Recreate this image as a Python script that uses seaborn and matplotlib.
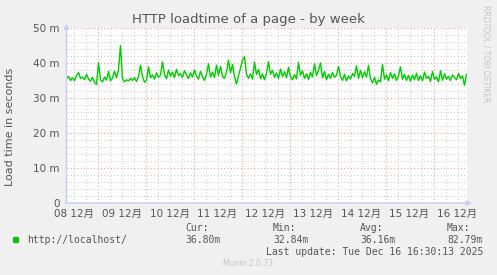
import numpy as np
import pandas as pd
import matplotlib
matplotlib.use("Agg")
import matplotlib.pyplot as plt
import matplotlib.dates as mdates
import matplotlib.transforms as mtransforms
from matplotlib.ticker import MultipleLocator, FixedLocator
import seaborn as sns

# ---------------- data ----------------
title = "HTTP loadtime of a page - by week"
ylabel = "Load time in seconds"
end_time = "2025-12-16 16:30"
loadtime_ms = [
    35.5, 36.2, 35.0, 35.8, 34.9, 36.4, 37.3, 35.6, 36.0, 35.2, 36.8, 35.4, 34.8, 35.9, 34.5, 33.9,
    40.1,
    35.2, 34.6, 36.0, 35.1, 37.6, 34.9, 35.7, 37.7, 35.8, 38.0,
    45.0,
    35.5, 34.6, 35.2, 34.9, 35.6, 35.0, 35.8, 34.7, 36.1,
    39.4,
    36.2, 34.5, 35.0,
    38.9,
    35.8, 36.6, 35.4, 37.2, 35.9, 36.5,
    40.3,
    36.8, 35.5, 38.0, 36.2, 37.4, 35.8, 38.2, 36.4, 37.0, 35.9, 37.8, 36.6, 35.6, 37.2, 36.0, 38.1,
    36.3, 35.4, 37.6, 36.1, 35.0, 36.8,
    39.8,
    36.0, 37.4, 35.8,
    39.4, 36.5, 39.0,
    36.2, 35.6, 37.5,
    40.8,
    37.2, 39.6, 36.0, 34.0, 36.4, 38.5,
    40.9, 41.8, 36.8, 35.6, 36.9, 35.4, 40.3, 36.7, 38.2, 35.5, 36.9, 35.2, 37.0, 40.4, 36.8, 37.9,
    35.9, 37.2, 35.6, 38.3, 36.1, 37.5, 35.8, 38.8, 36.0, 35.2, 36.7, 35.5, 40.2, 36.5, 37.8, 35.6,
    36.9, 35.3, 37.4, 36.0, 39.8, 36.4, 38.0, 40.0, 35.8, 37.6, 35.2, 36.8, 35.6, 37.3, 35.9, 36.5,
    39.0, 36.2, 35.0, 36.8, 34.9, 36.3, 35.4, 37.0, 36.2, 39.2, 35.6, 37.9, 35.8, 37.5, 36.0, 39.3,
    35.5, 34.3, 35.9, 33.9, 35.2, 34.6, 39.6, 35.4, 36.6, 34.9, 37.3, 35.6, 36.9, 35.0, 36.4, 38.9,
    35.3, 36.8, 35.0, 36.5, 34.8, 36.6, 35.2, 37.1, 35.0, 36.4, 34.9, 37.4, 35.6, 36.2, 34.7, 37.6,
    35.3, 36.0, 34.6, 37.8, 35.1, 36.9, 35.4, 36.2, 35.0, 36.6, 35.8, 35.2, 37.0, 35.6, 36.3, 33.6,
    36.8,
]
ytick_values = [0, 10, 20, 30, 40, 50]
ytick_labels = ["0", "10 m", "20 m", "30 m", "40 m", "50 m"]
day_labels = ["08 12月", "09 12月", "10 12月", "11 12月", "12 12月",
              "13 12月", "14 12月", "15 12月", "16 12月"]
day_dates = ["2025-12-08", "2025-12-09", "2025-12-10", "2025-12-11", "2025-12-12",
             "2025-12-13", "2025-12-14", "2025-12-15", "2025-12-16"]
series_name = "http://localhost/"
stat_headers = ["Cur:", "Min:", "Avg:", "Max:"]
stat_values = ["36.80m", "32.84m", "36.16m", "82.79m"]
last_update = "Last update: Tue Dec 16 16:30:13 2025"
footer = "Munin 2.0.73"
side_text = "RRDTOOL / TOBI OETIKER"

# ---------------- figure ----------------
W, H = 497, 275
BG = "#f0f0f0"
TXT = "#555555"
LINE = "#00cc00"
MGRID = "#e8a0a0"
GRID = "#cfcfcf"
AXIS = "#c8ccf4"

times = pd.date_range(end=end_time, periods=len(loadtime_ms), freq="h")
df = pd.DataFrame({"time": times, "load": loadtime_ms})

fig = plt.figure(figsize=(W / 100, H / 100), dpi=100, facecolor=BG)
ax = fig.add_axes([66.5 / W, 72 / H, 400 / W, 175 / H])
ax.set_facecolor("white")

sns.lineplot(data=df, x="time", y="load", ax=ax, color=LINE, linewidth=1.0, zorder=3)

ax.set_xlim(times[0], times[-1])
ax.set_ylim(0, 50)

# grids
ax.xaxis.set_major_locator(mdates.DayLocator())
ax.xaxis.set_minor_locator(mdates.HourLocator(byhour=[0, 6, 12, 18]))
ax.yaxis.set_major_locator(FixedLocator(ytick_values))
ax.yaxis.set_minor_locator(MultipleLocator(2))
ax.grid(which="minor", color=GRID, linestyle=(0, (1, 2)), linewidth=0.8, zorder=1)
ax.grid(which="major", color=MGRID, linestyle=(0, (1, 2)), linewidth=0.8, zorder=2)
ax.set_axisbelow(True)

ax.set_yticklabels(ytick_labels)
ax.set_xticklabels([])
ax.tick_params(which="both", length=0)
ax.tick_params(axis="y", pad=5, labelsize=7.5, labelcolor=TXT)
ax.set_xlabel("")
ax.set_ylabel("")
for s in ax.spines.values():
    s.set_visible(False)

# day labels at noon
trans = mtransforms.blended_transform_factory(ax.transData, ax.transAxes)
for d, lab in zip(day_dates, day_labels):
    noon = pd.Timestamp(d) + pd.Timedelta(hours=12)
    ax.text(mdates.date2num(noon), -0.065, lab, transform=trans, ha="center", va="center",
            fontsize=7.5, color=TXT, family=["DejaVu Sans", "Noto Sans CJK SC"], clip_on=False)

# axis arrows
ax.annotate("", xy=(0, 1.04), xytext=(0, -0.01), xycoords="axes fraction",
            arrowprops=dict(arrowstyle="-|>", color=AXIS, lw=1, mutation_scale=7), annotation_clip=False)
ax.annotate("", xy=(1.02, 0), xytext=(-0.01, 0), xycoords="axes fraction",
            arrowprops=dict(arrowstyle="-|>", color=AXIS, lw=1, mutation_scale=7), annotation_clip=False)

# texts
fig.text(248 / W, 1 - 19 / H, title, ha="center", va="center", fontsize=9.5, color=TXT)
fig.text(10 / W, 1 - 127 / H, ylabel, ha="center", va="center", rotation=90, fontsize=8, color=TXT)
fig.text(486 / W, 1 - 5 / H, side_text, ha="center", va="top", rotation=270, fontsize=5.5, color="#c4c4c4")

mono = "DejaVu Sans Mono"
fig.patches.append(plt.Rectangle((13 / W, 1 - 243 / H), 6 / W, 6 / H, transform=fig.transFigure,
                                 facecolor=LINE, edgecolor="none"))
fig.text(27 / W, 1 - 240 / H, series_name, ha="left", va="center", fontsize=7, family=mono, color=TXT)
stat_x = [185, 273, 360, 447]
for sx, hdr, val in zip(stat_x, stat_headers, stat_values):
    fig.text(sx / W, 1 - 228 / H, hdr, ha="left", va="center", fontsize=7, family=mono, color=TXT)
    fig.text(sx / W, 1 - 240 / H, val, ha="left", va="center", fontsize=7, family=mono, color=TXT)
fig.text(483 / W, 1 - 252 / H, last_update, ha="right", va="center", fontsize=7, family=mono, color=TXT)
fig.text(248 / W, 1 - 264 / H, footer, ha="center", va="center", fontsize=5.5, color="#c4c4c4")

fig.savefig("out.png", dpi=100, facecolor=BG)
